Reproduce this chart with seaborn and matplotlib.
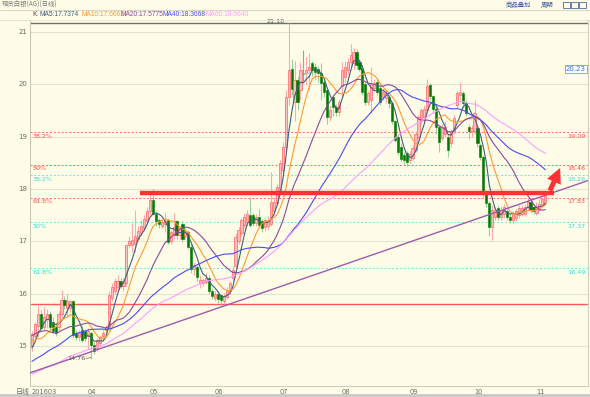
import numpy as np
import pandas as pd
import matplotlib
matplotlib.use("Agg")
import matplotlib.pyplot as plt
import seaborn as sns
from matplotlib.patches import Rectangle

sns.set_theme(style="white")
plt.rcParams['font.family'] = ['Noto Sans CJK SC', 'DejaVu Sans']

# ---------------- data ----------------
start_date = "2016-03-04"
month_labels = ["201603", "04", "05", "06", "07", "08", "09", "10", "11"]

# closes before the first drawn candle (only feed the moving averages)
prior_closes = [14.05, 14.10, 13.95, 13.90, 14.00, 14.15, 14.20, 14.05, 13.95, 13.85,
                13.80, 13.90, 14.00, 14.10, 14.05, 13.95, 13.85, 13.90, 14.00, 13.95,
                14.0, 14.1, 14.2, 14.1, 14.0, 13.9, 14.0, 14.1, 14.2, 14.3,
                14.2, 14.1, 14.0, 14.1, 14.3, 14.5, 14.6, 14.5, 14.4,
                14.6, 14.8, 15.0, 15.1, 15.3, 15.5, 15.8, 15.6, 15.4, 15.3,
                15.2, 15.3, 15.4, 15.3, 15.2, 15.0, 14.9, 14.8, 14.9, 15.0]

opens = [15.00, 15.20, 15.38, 15.62, 15.36, 15.52, 15.62, 15.46, 15.36, 15.36,
         15.62, 15.88, 15.72, 15.72, 15.85, 15.24, 15.18, 15.30, 15.28, 15.20,
         15.24, 15.02, 14.96, 15.05, 15.20, 15.30, 15.37, 15.91, 16.05, 16.12,
         16.25, 16.15, 16.20, 16.93, 16.93, 16.95, 17.05, 17.15, 17.25, 17.38,
         17.57, 17.79, 17.53, 17.40, 17.30, 17.33, 17.41, 17.00, 17.12, 17.38,
         17.12, 17.34, 17.10, 17.18, 16.90, 16.48, 16.51, 16.20, 16.20, 16.22,
         16.30, 16.05, 15.92, 16.00, 15.97, 15.86, 15.94, 16.05, 16.30, 16.52,
         17.00, 17.15, 17.31, 17.36, 17.50, 17.50, 17.35, 17.47, 17.38, 17.28,
         17.30, 17.34, 17.57, 17.73, 17.98, 18.36, 18.81, 19.76, 20.29, 19.67,
         20.08, 19.90, 20.20, 20.21, 20.27, 20.40, 20.34, 20.30, 20.21, 20.05,
         19.89, 19.38, 19.76, 19.57, 19.48, 19.96, 20.14, 20.27, 20.43, 20.40,
         20.62, 20.43, 20.30, 20.00, 19.67, 19.70, 19.93, 20.05, 19.93, 19.76,
         19.73, 19.76, 19.64, 19.29, 19.00, 18.80, 18.65, 18.68, 18.55, 18.60,
         18.75, 19.00, 19.30, 19.38, 19.50, 19.99, 19.77, 19.52, 19.19, 18.98,
         19.06, 19.00, 18.87, 19.10, 19.60, 19.80, 19.83, 19.64, 19.19, 19.10,
         19.10, 19.16, 18.84, 18.62, 17.90, 17.73, 17.28, 17.47, 17.63, 17.47,
         17.53, 17.57, 17.47, 17.41, 17.44, 17.50, 17.53, 17.53, 17.66, 17.76,
         17.66, 17.55, 17.62, 17.70, 17.74]

highs = [15.28, 15.45, 15.78, 15.68, 15.75, 15.70, 15.66, 15.55, 15.45, 15.66,
         16.07, 15.95, 16.00, 15.88, 15.88, 15.30, 15.30, 15.40, 15.32, 15.35,
         15.28, 15.08, 15.15, 15.20, 15.30, 15.40, 16.05, 16.20, 16.30, 16.35,
         16.30, 16.30, 16.95, 17.10, 17.35, 17.60, 17.30, 17.40, 17.50, 17.65,
         17.95, 18.00, 17.58, 17.45, 17.42, 17.55, 17.45, 17.22, 17.55, 17.40,
         17.30, 17.38, 17.25, 17.22, 16.95, 16.60, 16.55, 16.35, 16.30, 16.40,
         16.35, 16.10, 16.05, 16.05, 16.00, 16.02, 16.12, 16.25, 16.52, 17.15,
         17.28, 17.45, 17.55, 17.60, 17.85, 17.55, 17.52, 17.62, 17.42, 17.45,
         17.48, 18.33, 17.85, 18.10, 18.55, 18.90, 19.90, 21.18, 20.48, 20.45,
         20.15, 20.43, 20.65, 20.52, 20.59, 20.45, 20.40, 20.35, 20.40, 20.10,
         19.92, 19.60, 19.80, 19.62, 19.72, 20.43, 20.45, 20.50, 20.78, 20.69,
         20.68, 20.48, 20.34, 20.05, 19.88, 20.34, 20.10, 20.12, 19.98, 19.92,
         19.88, 19.80, 19.68, 19.32, 19.05, 18.87, 18.70, 18.72, 18.72, 18.85,
         19.10, 19.42, 19.55, 19.60, 20.10, 20.03, 19.80, 19.57, 19.22, 19.25,
         19.30, 19.05, 19.15, 19.42, 19.88, 20.05, 19.88, 19.70, 19.25, 19.22,
         19.70, 19.20, 18.88, 18.65, 17.95, 17.78, 17.70, 17.65, 17.70, 17.68,
         17.72, 17.62, 17.52, 17.58, 17.62, 17.70, 17.70, 17.72, 17.82, 17.82,
         17.72, 17.75, 17.80, 17.88, 17.92]

lows = [14.90, 15.15, 15.18, 15.30, 15.30, 15.35, 15.30, 15.25, 15.20, 15.30,
        15.55, 15.70, 15.55, 15.65, 15.15, 15.12, 15.10, 15.08, 15.10, 14.95,
        14.76, 14.85, 14.90, 15.00, 15.10, 15.20, 15.30, 15.85, 16.00, 16.05,
        16.10, 16.05, 16.15, 16.88, 16.80, 16.80, 17.00, 17.10, 17.20, 17.35,
        17.50, 17.50, 17.30, 17.25, 17.25, 17.18, 16.95, 16.95, 17.05, 17.05,
        17.05, 16.98, 17.05, 16.85, 16.40, 16.35, 16.25, 16.10, 16.15, 16.18,
        16.00, 15.90, 15.85, 15.82, 15.78, 15.80, 15.90, 16.00, 16.25, 16.48,
        16.95, 17.10, 17.25, 17.30, 17.28, 17.30, 17.30, 17.25, 17.18, 17.20,
        17.22, 17.30, 17.50, 17.70, 17.95, 18.30, 18.75, 19.60, 19.80, 19.30,
        19.50, 19.70, 20.05, 20.00, 19.90, 20.15, 20.10, 20.05, 19.70, 19.75,
        19.25, 19.30, 19.40, 19.40, 19.40, 19.75, 20.05, 20.20, 20.35, 20.30,
        20.30, 20.25, 19.80, 19.60, 19.60, 19.45, 19.88, 19.80, 19.60, 19.70,
        19.65, 19.55, 19.25, 18.90, 18.65, 18.52, 18.48, 18.43, 18.50, 18.55,
        18.70, 18.95, 19.25, 19.30, 19.45, 19.70, 19.45, 19.05, 18.70, 18.92,
        19.00, 18.62, 18.80, 19.05, 19.55, 19.70, 19.55, 19.40, 18.95, 19.00,
        19.05, 18.80, 18.55, 17.85, 17.65, 17.10, 17.03, 17.40, 17.40, 17.40,
        17.45, 17.40, 17.35, 17.35, 17.38, 17.45, 17.48, 17.48, 17.60, 17.55,
        17.52, 17.50, 17.58, 17.65, 17.70]

closes = [15.22, 15.42, 15.62, 15.34, 15.55, 15.62, 15.36, 15.28, 15.24, 15.62,
          15.88, 15.78, 15.85, 15.85, 15.21, 15.18, 15.26, 15.12, 15.15, 15.28,
          15.02, 14.90, 15.11, 15.18, 15.25, 15.36, 15.97, 16.13, 16.25, 16.25,
          16.14, 16.22, 16.93, 17.00, 17.02, 17.10, 17.20, 17.30, 17.43, 17.57,
          17.79, 17.53, 17.38, 17.33, 17.36, 17.38, 16.99, 17.18, 17.28, 17.12,
          17.25, 17.05, 17.18, 16.90, 16.48, 16.54, 16.32, 16.26, 16.26, 16.30,
          16.05, 15.95, 16.00, 15.90, 15.88, 15.96, 16.07, 16.20, 16.46, 17.09,
          17.22, 17.40, 17.47, 17.53, 17.31, 17.35, 17.47, 17.31, 17.25, 17.41,
          17.38, 17.76, 17.76, 18.04, 18.49, 18.81, 19.76, 20.27, 19.92, 20.08,
          19.67, 20.27, 20.20, 20.27, 20.34, 20.27, 20.24, 20.21, 20.02, 19.86,
          19.38, 19.51, 19.57, 19.48, 19.67, 20.27, 20.34, 20.43, 20.56, 20.62,
          20.37, 20.30, 19.86, 19.67, 19.83, 20.02, 20.02, 19.86, 19.67, 19.86,
          19.83, 19.64, 19.29, 18.94, 18.71, 18.58, 18.55, 18.52, 18.66, 18.78,
          19.06, 19.38, 19.50, 19.52, 19.96, 19.77, 19.52, 19.19, 18.90, 19.19,
          19.19, 18.75, 19.10, 19.35, 19.83, 19.86, 19.64, 19.45, 19.10, 19.16,
          19.45, 18.87, 18.62, 17.90, 17.73, 17.28, 17.60, 17.60, 17.47, 17.60,
          17.66, 17.47, 17.41, 17.53, 17.57, 17.63, 17.63, 17.66, 17.76, 17.60,
          17.57, 17.66, 17.72, 17.80, 17.86]

ma_windows = [5, 10, 20, 40, 60]
ma_header = ["MA5:17.7374", "MA10:17.6662", "MA20:17.5775", "MA40:18.3668", "MA60:18.6640"]

fib_red_values = [19.09, 18.46, 17.83]
fib_red_labels = ["38.2%", "50%", "61.8%"]
fib_cyan_values = [18.26, 17.37, 16.49]
fib_cyan_labels = ["38.2%", "50%", "61.8%"]
peak_value = 21.18
low_value = 14.76
support_value = 15.80
resistance_value = 17.92
trend_idx = [0, 174]
trend_val = [14.50, 17.88]
cursor_price = "20.23"

# ---------------- styling ----------------
BG = "#fffde8"
W, H = 590, 397
fig = plt.figure(figsize=(W / 100, H / 100), dpi=100, facecolor=BG)

L_PX, R_PX, T_PX, B_PX = 30, 588, 20, 386
ax = fig.add_axes([L_PX / W, 1 - B_PX / H, (R_PX - L_PX) / W, (B_PX - T_PX) / H])
ax.set_facecolor(BG)

n = len(closes)
idx = np.arange(n)
step = 2.95
x0 = -(32 - L_PX) / step
x1 = (R_PX - 32) / step
ax.set_xlim(x0, x1)
ylo = 21 - (B_PX - 32) / 52.33
yhi = 21 + (32 - T_PX) / 52.33
ax.set_ylim(ylo, yhi)

# grid lines
for v in range(15, 22):
    ax.axhline(v, color="#e4e4d4", lw=0.8, zorder=0)

# fibonacci / levels
ax.axhline(peak_value, color="#6e6e6e", lw=1.0, zorder=1)
for v in fib_red_values:
    ax.axhline(v, color="#ff6a6a", lw=0.7, ls=(0, (2, 2)), zorder=1)
for v in fib_cyan_values:
    ax.axhline(v, color="#6fe3e3", lw=0.7, ls=(0, (2, 2)), zorder=1)
ax.axhline(support_value, color="#ff5a5a", lw=1.0, zorder=1)

# candles
up_body, up_edge, up_wick = "#ffbcbc", "#ff4a4a", "#ffa8a8"
dn_body, dn_wick = "#007a00", "#9ccf9c"
for i in idx:
    o, h, l, c = opens[i], highs[i], lows[i], closes[i]
    if c > o:
        wc, fc, ec = up_wick, up_body, up_edge
    elif c < o:
        wc, fc, ec = dn_wick, dn_body, dn_body
    else:
        wc, fc, ec = "#a0a0a0", "#909090", "#909090"
    ax.vlines(i, l, h, color=wc, lw=0.8, zorder=2)
    bottom = min(o, c)
    height = max(abs(c - o), 0.012)
    ax.bar(i, height, bottom=bottom, width=0.72, color=fc, edgecolor=ec,
           linewidth=0.4, zorder=3)

# moving averages
all_closes = pd.Series(prior_closes + closes)
ma_colors = ["#3f5f7f", "#ff9a30", "#8a4a9a", "#4a4aff", "#ff9cff"]
for w, col in zip(ma_windows, ma_colors):
    ma = all_closes.rolling(w).mean().iloc[len(prior_closes):].to_numpy()
    sns.lineplot(x=idx, y=ma, ax=ax, color=col, lw=0.8, legend=False, zorder=4)

# trend line (extended to right edge)
slope = (trend_val[1] - trend_val[0]) / (trend_idx[1] - trend_idx[0])
tx = np.array([x0, x1])
ax.plot(tx, trend_val[0] + slope * (tx - trend_idx[0]), color="#a05aa8", lw=1.0, zorder=5)

# thick resistance line
ax.hlines(resistance_value, 36.6, 177, color="#ff3333", lw=3.2, zorder=6)

# arrow
ax.annotate("", xy=(179.4, 18.45), xytext=(175.2, resistance_value),
            arrowprops=dict(arrowstyle="simple,head_width=0.9,head_length=0.9,tail_width=0.3",
                            color="#ff3333", lw=0), zorder=7)

# level labels
lab_kw = dict(fontsize=4.6, family="DejaVu Sans", zorder=8)
for v, t in zip(fib_red_values, fib_red_labels):
    ax.text(0.3, v - 0.03, t, color="#ff4a4a", ha="left", va="top", **lab_kw)
    ax.text(x1 - 0.8, v - 0.03, f"{v:.2f}", color="#ff4a4a", ha="right", va="top", **lab_kw)
for v, t in zip(fib_cyan_values, fib_cyan_labels):
    ax.text(0.3, v - 0.03, t, color="#33d6d6", ha="left", va="top", **lab_kw)
    ax.text(x1 - 0.8, v - 0.03, f"{v:.2f}", color="#33d6d6", ha="right", va="top", **lab_kw)
ax.text(85.5, peak_value + 0.02, f"{peak_value:.2f}", color="#555555", ha="right",
        va="center", **lab_kw)
ax.text(18.2, low_value, f"{low_value:.2f}", color="#555555", ha="right", va="center", **lab_kw)
ax.plot([18.4, 20], [low_value, low_value + 0.02], color="#666666", lw=0.5, zorder=8)
ax.text(x1 - 0.8, 20.29, cursor_price, color="#3a6fd8", ha="right", va="center",
        fontsize=5, family="DejaVu Sans", zorder=8,
        bbox=dict(boxstyle="square,pad=0.15", fc="white", ec="#6f9cf0", lw=0.6))

# axes cosmetics
ax.set_xticks([])
ax.set_yticks([])
for s in ["top", "right"]:
    ax.spines[s].set_visible(False)
ax.spines["left"].set_color("#c8c8b8")
ax.spines["left"].set_linewidth(0.8)
ax.spines["bottom"].set_color("#d0d0c0")
ax.spines["bottom"].set_linewidth(0.8)
ax.set_xlabel("")
ax.set_ylabel("")

def px(xp, yp):
    return xp / W, 1 - yp / H

# y tick labels at left
for v in range(15, 22):
    yp = 32 + (21 - v) * 52.33
    fig.text(*px(27, yp), str(v), fontsize=5, color="#6a6a6a", ha="right", va="center",
             family="DejaVu Sans")

# month labels
dates = pd.bdate_range(start_date, periods=n)
month_pos = [0] + [i for i in range(1, n) if dates[i].month != dates[i - 1].month]
for lab, p in zip(month_labels, month_pos):
    xp = 32 + p * step - (0 if p == 0 else 3)
    fig.text(*px(xp, 392), lab, fontsize=4.8, color="#6a6a6a", ha="left", va="center",
             family="DejaVu Sans")
fig.text(*px(16, 392), "日线", fontsize=5, color="#6a6a6a", ha="left", va="center")

# header
fig.add_artist(plt.Line2D([0, 1], [1 - 9.5 / H, 1 - 9.5 / H], color="#d8d8c8", lw=0.8))
fig.add_artist(plt.Line2D([0, 1], [1 - 20 / H, 1 - 20 / H], color="#e2e2d2", lw=0.6))
fig.add_artist(plt.Line2D([R_PX / W, R_PX / W], [1 - B_PX / H, 1 - 20 / H], color="#d0d0c0", lw=0.8))
fig.add_artist(plt.Line2D([0, 1], [1 - 397 / H + 0.004, 1 - 397 / H + 0.004], color="#c8c8c8", lw=2))
fig.text(*px(2, 4.5), "现货白银(AG)(日线)", fontsize=4.6, color="#777777", ha="left", va="center")
fig.text(*px(506, 4.5), "商品叠加", fontsize=4.6, color="#3a5a9a", ha="left", va="center")
fig.text(*px(541, 4.5), "周期", fontsize=4.6, color="#3a5a9a", ha="left", va="center")
for bx in [563, 571, 579]:
    fig.add_artist(Rectangle((bx / W, 1 - 8 / H), 7 / W, 6 / H, transform=fig.transFigure,
                             fill=False, ec="#4a6aa0", lw=0.6))
fig.text(*px(32, 14.5), "K", fontsize=5, color="#555555", ha="left", va="center",
         family="DejaVu Sans")
hdr_x = [39, 82, 121, 163, 206]
for t, xp, col in zip(ma_header, hdr_x, ma_colors):
    fig.text(*px(xp, 14.5), t, fontsize=4.8, color=col, ha="left", va="center",
             family=["Liberation Sans Narrow", "Liberation Sans", "DejaVu Sans"])

fig.savefig("out.png", dpi=100, facecolor=BG)
